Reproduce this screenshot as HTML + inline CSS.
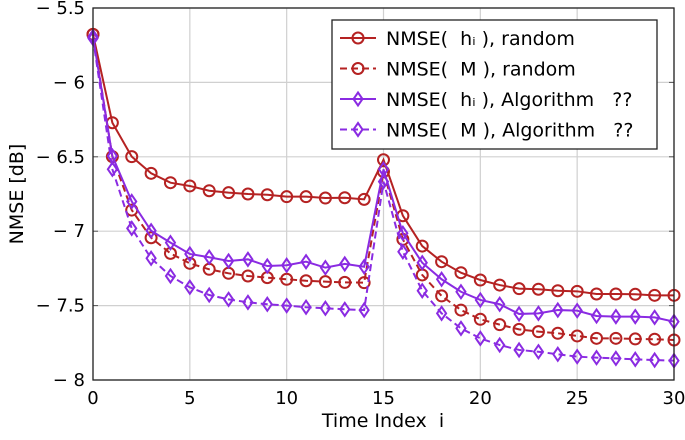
<!DOCTYPE html>
<html><head><meta charset="utf-8"><style>
body{margin:0;background:#fff;}
svg text{font-family:"DejaVu Sans","Liberation Sans",sans-serif;fill:#000;white-space:pre;}
</style></head><body>
<svg id="chart" width="685" height="435" viewBox="0 0 685 435" xmlns="http://www.w3.org/2000/svg">
<g id="grid"></g>
<g id="series"></g>
<g id="axes"></g>
<g id="legend"></g>
</svg>
<script>
const timeIndex = [0,1,2,3,4,5,6,7,8,9,10,11,12,13,14,15,16,17,18,19,20,21,22,23,24,25,26,27,28,29,30];
const hRandom = [-5.677,-6.271,-6.499,-6.611,-6.674,-6.696,-6.728,-6.741,-6.75,-6.755,-6.768,-6.768,-6.777,-6.775,-6.786,-6.52,-6.896,-7.1,-7.205,-7.279,-7.328,-7.362,-7.386,-7.39,-7.40,-7.404,-7.422,-7.422,-7.424,-7.431,-7.431];
const mRandom = [-5.677,-6.499,-6.858,-7.044,-7.149,-7.216,-7.256,-7.283,-7.301,-7.312,-7.323,-7.333,-7.339,-7.344,-7.346,-6.6,-7.055,-7.294,-7.435,-7.53,-7.592,-7.628,-7.66,-7.675,-7.686,-7.704,-7.72,-7.72,-7.724,-7.726,-7.731];
const hAlg = [-5.693,-6.495,-6.80,-6.997,-7.077,-7.153,-7.175,-7.2,-7.189,-7.234,-7.229,-7.205,-7.245,-7.22,-7.239,-6.584,-7.014,-7.212,-7.323,-7.407,-7.462,-7.491,-7.556,-7.552,-7.53,-7.534,-7.57,-7.574,-7.574,-7.579,-7.608];
const mAlg = [-5.704,-6.584,-6.981,-7.182,-7.301,-7.377,-7.429,-7.458,-7.478,-7.491,-7.5,-7.511,-7.518,-7.525,-7.53,-6.667,-7.138,-7.40,-7.552,-7.653,-7.72,-7.765,-7.798,-7.81,-7.827,-7.843,-7.85,-7.855,-7.861,-7.866,-7.87];
const xTicks = [0,5,10,15,20,25,30];
const yTicks = [-5.5,-6,-6.5,-7,-7.5,-8];
const yTickLabels = ["\u2212 5.5","\u2212 6","\u2212 6.5","\u2212 7","\u2212 7.5","\u2212 8"];

const L=93,R=674,T=8,B=380, X0=0,X1=30,Y0=-5.5,Y1=-8;
const xs=v=>L+(v-X0)/(X1-X0)*(R-L);
const ys=v=>T+(v-Y0)/(Y1-Y0)*(B-T);
const NS="http://www.w3.org/2000/svg";
function mk(tag,attrs,parent){const e=document.createElementNS(NS,tag);for(const k in attrs)e.setAttribute(k,attrs[k]);parent.appendChild(e);return e;}
const grid=document.getElementById('grid'),axes=document.getElementById('axes'),ser=document.getElementById('series'),leg=document.getElementById('legend');
xTicks.forEach(t=>{const l=mk('line',{x1:xs(t),x2:xs(t),y1:T,y2:B,stroke:'#d0d0d0','stroke-width':1.2},grid);


const tx=mk('text',{x:xs(t),y:B+24,'text-anchor':'middle','font-size':18},axes);tx.textContent=t;

});
yTicks.forEach((t,i)=>{const l=mk('line',{x1:L,x2:R,y1:ys(t),y2:ys(t),stroke:'#d0d0d0','stroke-width':1.2},grid);


mk('line',{x1:L,x2:L+5,y1:ys(t),y2:ys(t),stroke:'#555'},axes);mk('line',{x1:R-5,x2:R,y1:ys(t),y2:ys(t),stroke:'#555'},axes);
const tx=mk('text',{x:L-8,y:ys(t)+6,'text-anchor':'end','font-size':18},axes);tx.textContent=yTickLabels[i];

});
const fr=mk('rect',{x:L,y:T,width:R-L,height:B-T,fill:'none',stroke:'#222','stroke-width':1.3},axes);


const xl=mk('text',{x:383,y:427,'text-anchor':'middle','font-size':19},axes);xl.textContent='Time Index  i';


const yl=mk('text',{x:0,y:0,'text-anchor':'middle','font-size':19,transform:'translate(23,194) rotate(-90)'},axes);yl.textContent='NMSE [dB]';



const RED='#b52222',PUR='#8a2be2';
function marker(type,x,y,color,parent){
  if(type==='o') return mk('circle',{cx:x,cy:y,r:5.5,fill:'none',stroke:color,'stroke-width':2},parent);
  return mk('path',{d:`M${x} ${y-6.5}L${x+4.5} ${y}L${x} ${y+6.5}L${x-4.5} ${y}Z`,fill:'none',stroke:color,'stroke-width':2},parent);
}
const defs=[
 {data:hRandom,color:RED,dash:null,m:'o',name:'h-random',label:'NMSE(  h\u1d62 ), random'},
 {data:mRandom,color:RED,dash:'7,4',m:'o',name:'m-random',label:'NMSE(  M ), random'},
 {data:hAlg,color:PUR,dash:null,m:'d',name:'h-algorithm',label:'NMSE(  h\u1d62 ), Algorithm   ??'},
 {data:mAlg,color:PUR,dash:'7,4',m:'d',name:'m-algorithm',label:'NMSE(  M ), Algorithm   ??'}];
defs.forEach((s,si)=>{
  const g=mk('g',{},ser);
  
  
  const pts=s.data.map((v,i)=>xs(timeIndex[i])+','+ys(v)).join(' ');
  const a={points:pts,fill:'none',stroke:s.color,'stroke-width':2};if(s.dash)a['stroke-dasharray']=s.dash;
  mk('polyline',a,g);
  s.data.forEach((v,i)=>{const m=marker(s.m,xs(timeIndex[i]),ys(v),s.color,g);
    
    });
  const ly=38+si*30.5;
  const e=mk('g',{},leg);
  
  
  const la={x1:340,x2:376,y1:ly,y2:ly,stroke:s.color,'stroke-width':2};if(s.dash)la['stroke-dasharray']='7,4';
  mk('line',la,e);marker(s.m,358,ly,s.color,e);
  const t=mk('text',{x:386,y:ly+7,'font-size':19},e);t.textContent=s.label;
});
const lb=mk('rect',{x:332,y:20,width:325,height:129,fill:'#fff',stroke:'#222','stroke-width':1.3},leg);


leg.insertBefore(lb,leg.firstChild);
</script>
</body></html>
